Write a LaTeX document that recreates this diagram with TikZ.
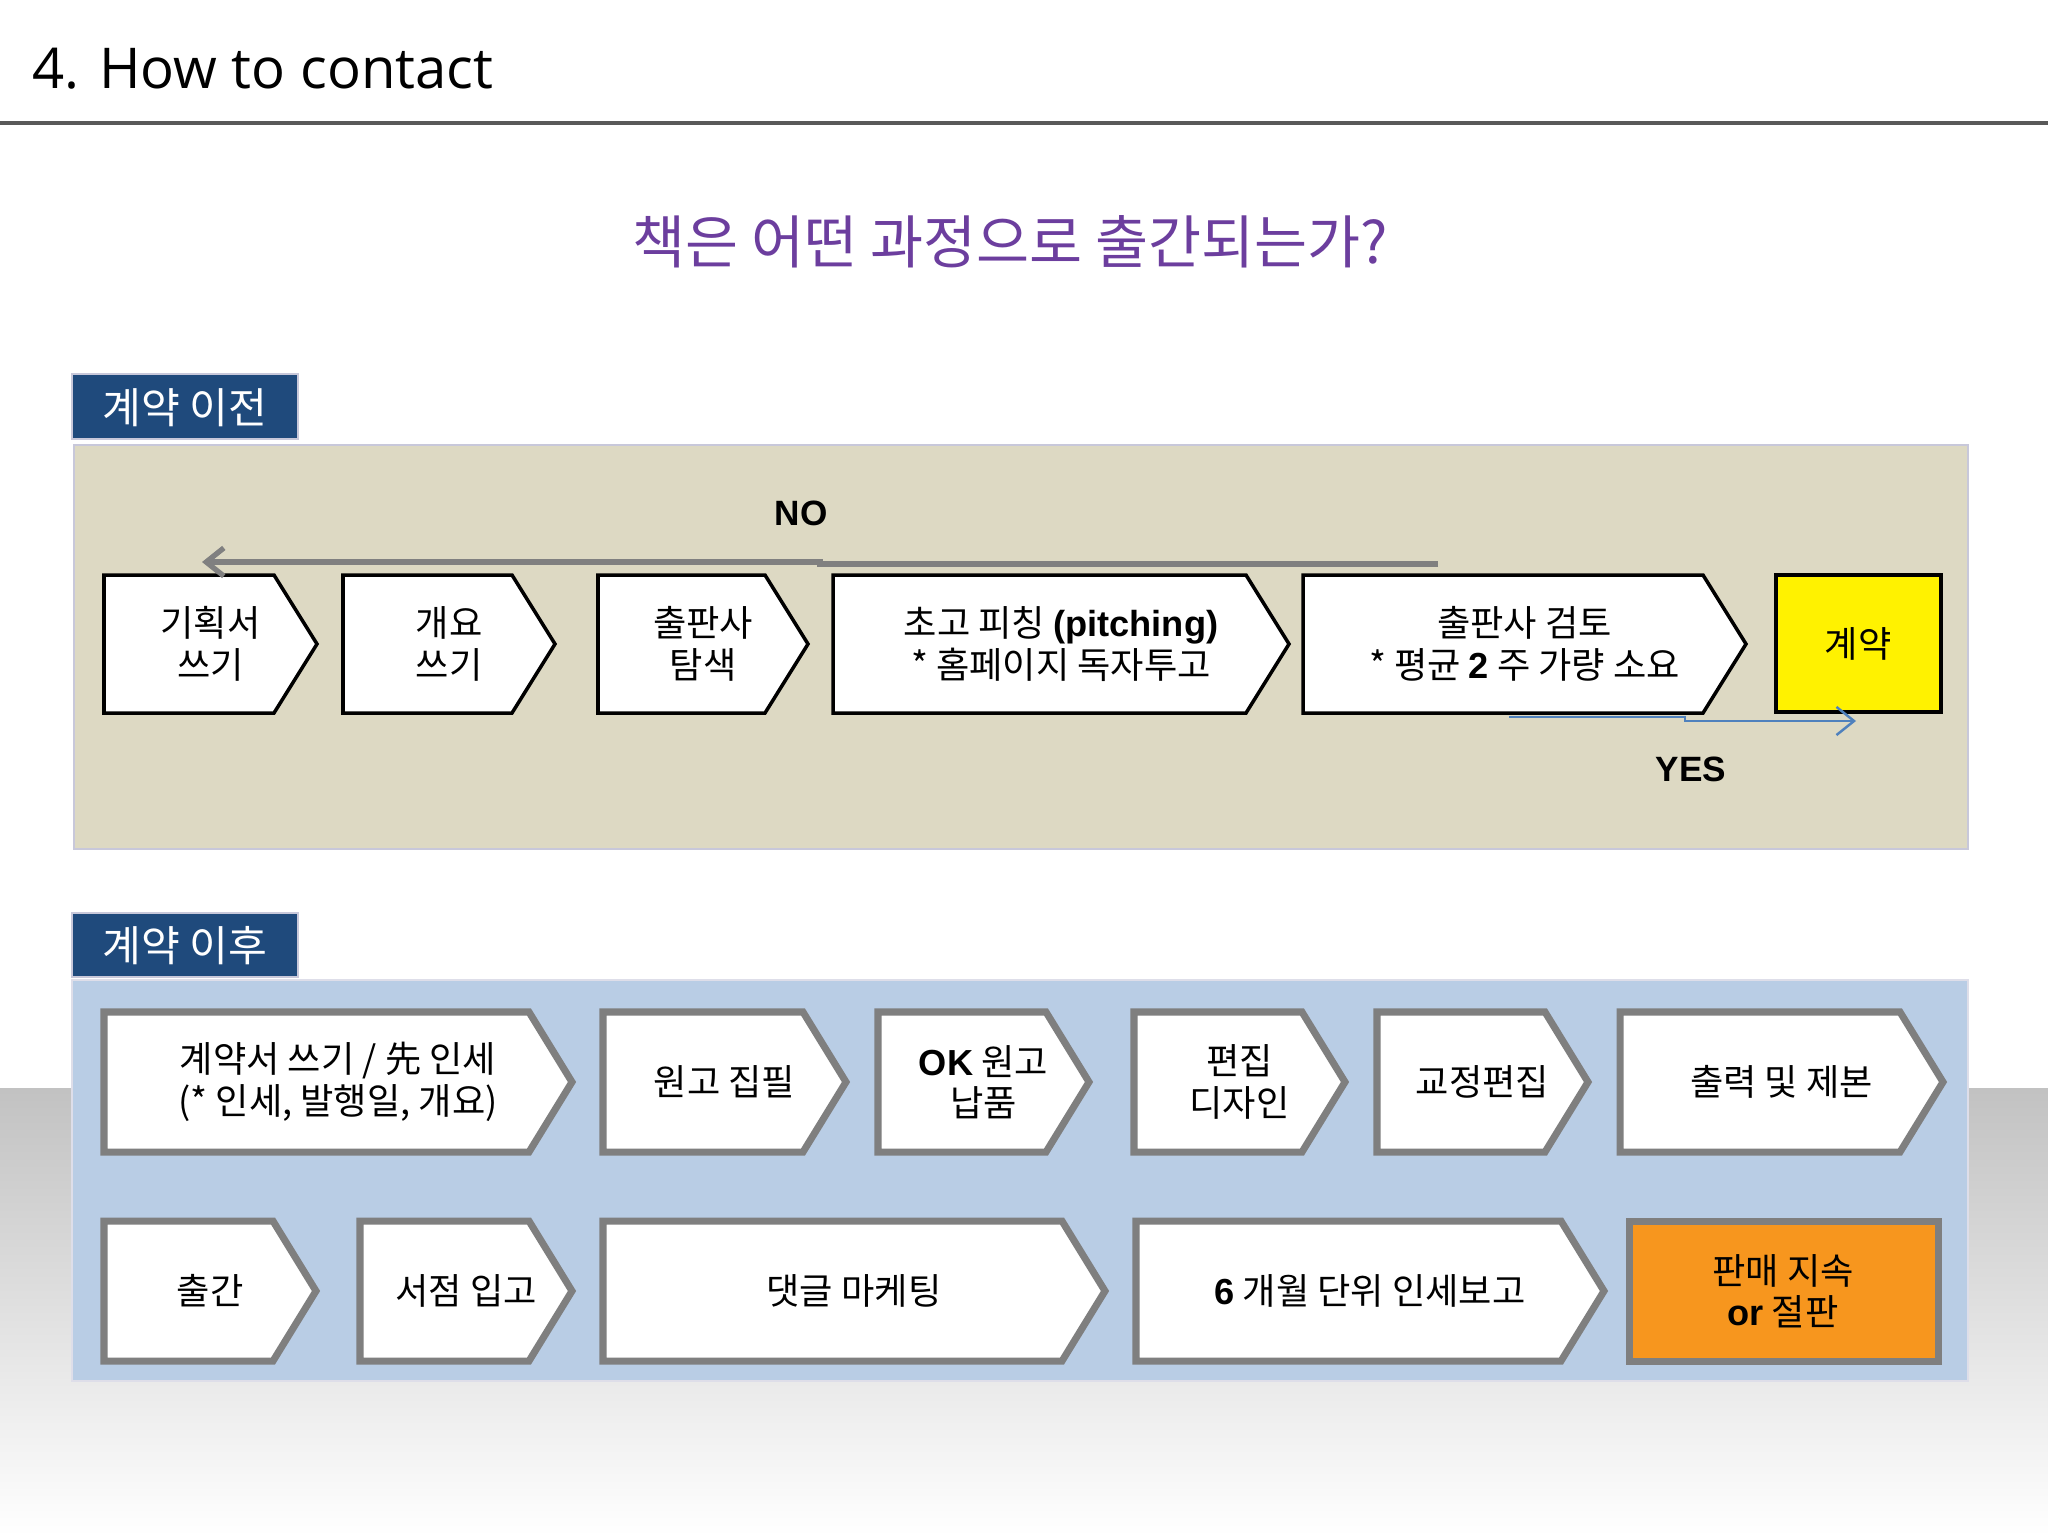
\documentclass[tikz,border=0pt]{standalone}
\usepackage{fontspec}
\setmainfont{Noto Sans CJK KR}
\newfontfamily\titlefont{Open Sans}
\newfontfamily\latinbold{Liberation Sans}
\usetikzlibrary{arrows.meta}

\definecolor{tabblue}{HTML}{1F4A7C}
\definecolor{sandpanel}{HTML}{DDD9C3}
\definecolor{skypanel}{HTML}{B9CDE5}
\definecolor{headpurple}{HTML}{6C3E9E}
\definecolor{stepgray}{HTML}{7F7F7F}
\definecolor{yesblue}{HTML}{4F81BD}
\definecolor{endorange}{HTML}{F7961E}
\definecolor{panelrim}{HTML}{C8C8DA}

\tikzset{
  boxtext/.style={align=center, inner sep=0pt, font=\fontsize{10.3}{11.8}\selectfont},
  topstep/.style={draw=black, fill=white, line width=1pt, line join=miter},
  lowstep/.style={draw=stepgray, fill=white, line width=2pt, line join=miter},
  tabbox/.style={fill=tabblue, draw=panelrim, line width=0.5pt},
  tabtext/.style={text=white, font=\fontsize{12}{14}\selectfont},
  yesno/.style={font=\latinbold\bfseries\fontsize{10}{12}\selectfont},
  noarrow/.style={draw=gray, line width=1.5pt, -{Straight Barb[length=5pt,width=8pt]}},
  yesarrow/.style={draw=yesblue, line width=0.7pt, -{Straight Barb[length=5pt,width=8pt]}},
}
\newcommand{\lb}[1]{{\latinbold\bfseries #1}}
% style, name, left, right, top, bottom, text
\newcommand{\flowstep}[7]{%
  \draw[#1] (#3,#5) -- ({#4-43},#5) -- (#4,{(#5+#6)/2}) -- ({#4-43},#6) -- (#3,#6) -- cycle;
  \node[boxtext] (#2) at ({(#3+#4)/2},{(#5+#6)/2}) {#7};}

\begin{document}
\begin{tikzpicture}[x=0.01cm, y=-0.01cm]
    \useasboundingbox (0,0) rectangle (2048,1536);
    \fill[white] (0,0) rectangle (2048,1536);
    \shade[top color=black!24, bottom color=white] (0,1088) rectangle (2048,1536);

    \node[anchor=base west, font=\titlefont\fontsize{16}{19}\selectfont] (title) at (20,88) {4. How to contact};
    \draw[line width=1pt, black!65] (0,123) -- (2048,123);
    \node[text=headpurple, font=\fontsize{16.4}{19}\selectfont] (question) at (1010,242) {책은 어떤 과정으로 출간되는가?};

    \draw[tabbox] (72,374) rectangle (298,439);
    \node[tabtext] (beforetab) at (185,408) {계약 이전};
    \draw[fill=sandpanel, draw=panelrim, line width=0.6pt] (74,445) rectangle (1968,849);

    \flowstep{topstep}{plan}{104}{317}{575}{713}{기획서\\쓰기}
    \flowstep{topstep}{outline}{343}{555}{575}{713}{개요\\쓰기}
    \flowstep{topstep}{search}{598}{808}{575}{713}{출판사\\탐색}
    \flowstep{topstep}{pitch}{833}{1289}{575}{713}{초고 피칭 \lb{(pitching)}\\* 홈페이지 독자투고}
    \flowstep{topstep}{review}{1303}{1746}{575}{713}{출판사 검토\\* 평균 \lb{2} 주 가량 소요}
    \draw[fill=yellow, draw=black, line width=1pt] (1776,575) rectangle (1941,712);
    \node[boxtext] (contract) at (1858,644) {계약};

    \coordinate (noStart) at (1438,564);
    \coordinate (noEnd) at (202,562);
    \draw[noarrow] (noStart) -- (820,564) -- (820,562) -- (noEnd);
    \node[yesno] (nolabel) at (801,513) {NO};
    \coordinate (yesStart) at (1509,717);
    \coordinate (yesEnd) at (1856,721);
    \draw[yesarrow] (yesStart) -- (1685,717) -- (1685,721) -- (yesEnd);
    \node[yesno] (yeslabel) at (1691,769) {YES};

    \draw[tabbox] (72,913) rectangle (298,977);
    \node[tabtext] (aftertab) at (185,946) {계약 이후};
    \draw[fill=skypanel, draw=panelrim!60, line width=0.6pt] (72,980) rectangle (1968,1381);

    \flowstep{lowstep}{sign}{104}{572}{1012}{1152}{계약서 쓰기 / 先 인세\\(* 인세, 발행일, 개요)}
    \flowstep{lowstep}{write}{603}{846}{1012}{1152}{원고 집필}
    \flowstep{lowstep}{deliver}{878}{1089}{1012}{1152}{\lb{OK} 원고\\납품}
    \flowstep{lowstep}{design}{1134}{1345}{1012}{1152}{편집\\디자인}
    \flowstep{lowstep}{proof}{1377}{1588}{1012}{1152}{교정편집}
    \flowstep{lowstep}{print}{1620}{1943}{1012}{1152}{출력 및 제본}

    \flowstep{lowstep}{launch}{104}{316}{1221}{1361}{출간}
    \flowstep{lowstep}{stock}{360}{572}{1221}{1361}{서점 입고}
    \flowstep{lowstep}{market}{603}{1105}{1221}{1361}{댓글 마케팅}
    \flowstep{lowstep}{report}{1136}{1604}{1221}{1361}{\lb{6} 개월 단위 인세보고}
    \draw[fill=endorange, draw=stepgray, line width=2pt] (1629,1221) rectangle (1938,1361);
    \node[boxtext] (outcome) at (1783,1291) {판매 지속\\\lb{or} 절판};

\end{tikzpicture}
\end{document}
